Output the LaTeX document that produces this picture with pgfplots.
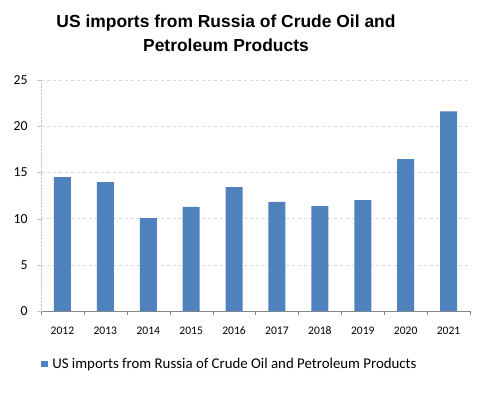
\documentclass[border=0pt]{standalone}
\usepackage{fontspec}
\setmainfont{Carlito}
\newfontfamily\arialfont{Liberation Sans}
\usepackage{pgfplots}
\pgfplotsset{compat=1.18}
\definecolor{barblue}{HTML}{4F81BD}
\definecolor{axgray}{HTML}{868686}
\definecolor{gridgray}{HTML}{D9D9D9}
\definecolor{yaxblue}{HTML}{B9C9E4}
\begin{document}
\begin{tikzpicture}[x=1bp,y=1bp]
\path[use as bounding box] (0,0) rectangle (488,396);
\node[anchor=base,align=center,font={\arialfont\bfseries\fontsize{17.5}{24}\selectfont}] at (226,345)
  {US imports from Russia of Crude Oil and\\Petroleum Products};
\begin{axis}[
  at={(41bp,85bp)}, anchor=south west,
  scale only axis, width=429bp, height=231bp,
  xmin=-0.5, xmax=9.5, ymin=0, ymax=25,
  ytick={0,5,...,25},
  xtick={0,...,9},
  xticklabels={2012,2013,2014,2015,2016,2017,2018,2019,2020,2021},
  minor xtick={-0.5,0.5,...,9.5},
  major x tick style={draw=none},
  minor x tick style={draw=axgray},
  minor tick length=4bp,
  tick align=outside,
  major tick length=4bp,
  y tick style={draw=yaxblue},
  axis x line*=bottom, axis y line*=left,
  x axis line style={draw=axgray, line width=0.9bp, -},
  y axis line style={draw=yaxblue, densely dotted, -},
  ymajorgrids, grid style={draw=gridgray, dashed},
  /pgf/number format/assume math mode=true,
  xticklabel style={font=\fontsize{11.6}{12}\selectfont, anchor=base, yshift=-19bp},
  yticklabel style={font=\fontsize{13.8}{14}\selectfont, xshift=-6bp},
  ybar, bar width=17bp,
  legend style={at={(rel axis cs:0,-0.229)}, anchor=west, draw=none, fill=none,
    font=\fontsize{14.9}{15}\selectfont, inner xsep=0pt},
  legend image code/.code={\fill[barblue] (0bp,-3.3bp) rectangle (6.6bp,3.3bp);},
]
\addplot[fill=barblue, draw=none] coordinates {
 (0,14.5) (1,13.96) (2,10.06) (3,11.26) (4,13.4) (5,11.8) (6,11.36) (7,12.0) (8,16.45) (9,21.6)};
\addlegendentry{\hspace{2.5bp}US imports from Russia of Crude Oil and Petroleum Products}
\end{axis}
\end{tikzpicture}
\end{document}
